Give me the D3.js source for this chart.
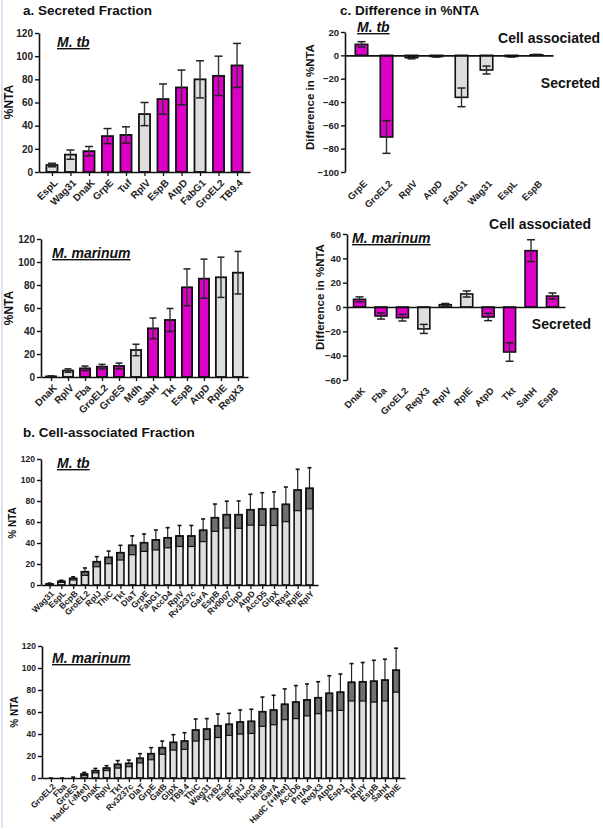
<!DOCTYPE html>
<html><head><meta charset="utf-8">
<script src="https://cdn.jsdelivr.net/npm/d3@7"></script>
<style>html,body{margin:0;padding:0;background:#fff;}</style>
</head><body>
<script>
// ---------- DATA ----------
// a. Secreted fraction, M. tb
const secMtbCats = ["EspL","Wag31","DnaK","GrpE","Tuf","RplV","EspB","AtpD","FabG1","GroEL2","TB9.4"];
const secMtbVals = [6,15,18,31,32,50,63,73,80,83,92];
const secMtbErr  = [1.5,4,4,6.5,7,10,13,15,16,17,19];
const secMtbCol  = ["g","g","m","m","m","g","m","m","g","m","m"];
// a. Secreted fraction, M. marinum
const secMmCats = ["DnaK","RplV","Fba","GroEL2","GroES","Mdh","SahH","Tkt","EspB","AtpD","RplE","RegX3"];
const secMmVals = [0.5,5.6,7.5,9,9.6,23.5,42.3,49.6,78,85.5,86.7,90.7];
const secMmErr  = [0.5,1.5,2,2,2.5,5,9,10,16,17,17.5,18.5];
const secMmCol  = ["m","g","m","m","m","g","m","m","m","m","g","g"];
// c. Difference in %NTA, M. tb
const diffMtbCats = ["GrpE","GroEL2","RplV","AtpD","FabG1","Wag31","EspL","EspB"];
const diffMtbVals = [9.4,-70,-2,-1,-36,-12.6,-1,0.5];
const diffMtbErr  = [2.3,14,1,0.5,8,3.4,0.5,0.3];
const diffMtbCol  = ["m","m","g","g","g","g","g","g"];
// c. Difference in %NTA, M. marinum
const diffMmCats = ["DnaK","Fba","GroEL2","RegX3","RplV","RplE","AtpD","Tkt","SahH","EspB"];
const diffMmVals = [6.3,-7.4,-8.8,-18,1.9,10.7,-8.2,-37,46.3,9];
const diffMmErr  = [2,2.5,2.7,3.7,1,2.5,3,7.6,9,2.5];
const diffMmCol  = ["m","m","m","g","g","g","m","m","m","m"];
// b. Cell-associated fraction, M. tb
const cellMtbCats = ["Wag31","EspL","BcpB","GroEL2","RplJ","ThiC","Tkt","DlaT","GrpE","FabG1","AccD4","RplV","Rv3237c","GarA","EspB","Rv0007","ClpD","AtpD","AccD5","GlpX","RpsI","RplE","RplY"];
const cellMtbVals = [1,3.5,6.3,12.7,22.2,26.3,30.8,37.8,40.3,42.9,45,46.7,46.7,52.1,64.1,67,67,71.7,72.4,72.7,76.8,90.5,92.1];
const cellMtbErr  = [0.8,1,1.5,3.5,4.8,6,7,9,8.3,9.5,9.6,10,10,10.8,13,12.8,13,14.7,15.5,16,16.5,19.7,19.6];
// b. Cell-associated fraction, M. marinum
const cellMmCats = ["GroEL2","Fba","GroES","HadC (-iMet)","DnaK","RplV","Tkt","Rv3237c","DlaT","GrpE","GatB","GlpX","TB9.4","ThiC","Wag31","TrxB2","EspF","RplJ","NuoG","HisB","GarA","HadC (+iMet)","AccD6","PntAa","RegX3","AtpD","EspJ","Tuf","RplY","EspB","SahH","RplE"];
const cellMmVals = [0,0,0.2,3.6,6.7,9,12.4,13.3,17.9,22.1,27.6,32.4,33.6,43.6,44.5,47.5,48.8,50.9,51.5,60.3,61.8,67,69,71,73,77,78,87,87.5,88,89,98];
const cellMmErr  = [0,0,0.6,1.5,2,2.2,3.4,3,4.2,5.5,6,7,7.6,10,9.5,10.7,10,11,11,13.3,13.4,14,15,14.5,14.5,16,16.5,17,17.5,19,19,20];
// tick values
const ticks0to120 = [0,20,40,60,80,100,120];
const ticksDiffMtb = [-100,-80,-60,-40,-20,0,20];
const ticksDiffMm = [-60,-40,-20,0,20,40,60];

// ---------- DRAWING ----------
const FONT = "'Liberation Sans', Arial, Helvetica, sans-serif";
const MAG = "#dc00c8", GRY = "#dedede", DARK = "#707070";
const svg = d3.select("body").append("svg").attr("width",603).attr("height",831)
  .style("display","block").style("font-family",FONT);
svg.append("rect").attr("width",603).attr("height",831).attr("fill","#fff");
svg.append("line").attr("x1",2).attr("x2",2).attr("y1",0).attr("y2",828)
  .attr("stroke","#d6daf0").attr("stroke-width",1.5);

function txt(x,y,s,o={}){
  const t = svg.append("text").attr("x",x).attr("y",y).text(s)
    .attr("font-family",FONT).attr("font-weight","bold")
    .attr("font-size",o.size||14).attr("fill",o.fill||"#111")
    .attr("text-anchor",o.anchor||"start");
  if(o.italic) t.attr("font-style","italic");
  if(o.underline) t.attr("text-decoration","underline");
  if(o.rotate) t.attr("transform",`rotate(${o.rotate},${x},${y})`);
  return t;
}

function drawPanel(p){
  const g = svg.append("g");
  const x = d3.scalePoint().domain(p.cats).range(p.xr).padding(p.pad);
  const y = d3.scaleLinear().domain(p.yd).range(p.yr);
  const bw = x.step()*p.bwf;
  const cw = p.capw;
  const y0 = y(0);
  // bars
  p.cats.forEach((c,i)=>{
    const v = p.vals[i], e = p.errs[i], cx = x(c);
    const top = Math.min(y(v),y0), h = Math.abs(y(v)-y0);
    if(p.style === "b"){
      g.append("line").attr("x1",cx).attr("x2",cx).attr("y1",y(v)).attr("y2",y(v+e))
        .attr("stroke","#222").attr("stroke-width",1.2);
      g.append("line").attr("x1",cx-cw/2).attr("x2",cx+cw/2).attr("y1",y(v+e)).attr("y2",y(v+e))
        .attr("stroke","#111").attr("stroke-width",1.6);
      if(h>0.3){
        g.append("rect").attr("x",cx-bw/2).attr("y",top).attr("width",bw).attr("height",h)
          .attr("fill",GRY).attr("stroke","none");
        const lo = Math.max(v-e,0);
        g.append("rect").attr("x",cx-bw/2).attr("y",y(v)).attr("width",bw).attr("height",y(lo)-y(v))
          .attr("fill",DARK).attr("stroke","#111").attr("stroke-width",1.2);
        g.append("rect").attr("x",cx-bw/2).attr("y",top).attr("width",bw).attr("height",h)
          .attr("fill","none").attr("stroke","#111").attr("stroke-width",1.6);
      }
    } else {
      g.append("rect").attr("x",cx-bw/2).attr("y",top).attr("width",bw).attr("height",h)
        .attr("fill",p.cols[i]==="m"?MAG:GRY).attr("stroke","#111").attr("stroke-width",p.sw);
      g.append("line").attr("x1",cx).attr("x2",cx).attr("y1",y(v-e)).attr("y2",y(v+e))
        .attr("stroke","#333").attr("stroke-width",1.4);
      [v-e,v+e].forEach(q=>{
        g.append("line").attr("x1",cx-cw/2).attr("x2",cx+cw/2).attr("y1",y(q)).attr("y2",y(q))
          .attr("stroke","#222").attr("stroke-width",1.5);
      });
    }
  });
  // y axis
  const yg = g.append("g").attr("transform",`translate(${p.xr[0]},0)`)
    .call(d3.axisLeft(y).tickValues(p.ticks).tickSize(4).tickSizeOuter(0).tickPadding(2));
  yg.select(".domain").attr("stroke","#111").attr("stroke-width",1.6);
  yg.selectAll(".tick line").attr("stroke","#111").attr("stroke-width",1.4);
  yg.selectAll(".tick text").attr("font-size",p.tf).attr("font-weight","bold")
    .attr("font-family",FONT).attr("fill","#222");
  // x axis at zero
  const xg = g.append("g").attr("transform",`translate(0,${y0})`)
    .call(d3.axisBottom(x).tickSize(p.xt).tickSizeOuter(0).tickFormat(""));
  xg.select(".domain").attr("stroke","#111").attr("stroke-width",1.6);
  xg.selectAll(".tick line").attr("stroke","#111").attr("stroke-width",1.3);
  // category labels
  g.selectAll("text.cat").data(p.cats).join("text").attr("class","cat")
    .attr("transform",d=>`translate(${x(d)+p.ldx},${p.ly}) rotate(-45)`)
    .attr("text-anchor","end").attr("dy","0.35em")
    .attr("font-size",p.cf).attr("font-weight","bold").attr("font-family",FONT).attr("fill","#222")
    .text(d=>d);
}

// titles
txt(23,15,"a. Secreted Fraction",{size:13.5});
txt(340,15,"c. Difference in %NTA",{size:13.5});
txt(23,437,"b. Cell-associated Fraction",{size:13.5});

// a top
drawPanel({cats:secMtbCats,vals:secMtbVals,errs:secMtbErr,cols:secMtbCol,xr:[39,250],pad:0.7,bwf:0.6,
  yd:[0,120],yr:[172,33],ticks:ticks0to120,style:"a",sw:1.8,capw:8,tf:10,cf:10,xt:4,ly:181,ldx:4});
txt(57,47,"M. tb",{italic:true,underline:true});
txt(13,102,"%NTA",{size:12,anchor:"middle",rotate:-90});

// a bottom
drawPanel({cats:secMmCats,vals:secMmVals,errs:secMmErr,cols:secMmCol,xr:[41,248],pad:0.59,bwf:0.6,
  yd:[0,120],yr:[377,239],ticks:ticks0to120,style:"a",sw:1.8,capw:7,tf:10,cf:10,xt:4,ly:386,ldx:4});
txt(52,258,"M. marinum",{italic:true,underline:true});
txt(13,308,"%NTA",{size:12,anchor:"middle",rotate:-90});

// c top
drawPanel({cats:diffMtbCats,vals:diffMtbVals,errs:diffMtbErr,cols:diffMtbCol,xr:[345,553],pad:0.66,bwf:0.5,
  yd:[-100,20],yr:[172,32],ticks:ticksDiffMtb,style:"c",sw:1.6,capw:8,tf:9.5,cf:9.5,xt:0,ly:182,ldx:4});
txt(357,32,"M. tb",{italic:true,underline:true});
txt(314,97,"Difference in %NTA",{size:11.5,anchor:"middle",rotate:-90});
txt(600,43,"Cell associated",{anchor:"end"});
txt(600,88,"Secreted",{anchor:"end"});

// c bottom
drawPanel({cats:diffMmCats,vals:diffMmVals,errs:diffMmErr,cols:diffMmCol,xr:[347,565],pad:0.585,bwf:0.56,
  yd:[-60,60],yr:[380,234],ticks:ticksDiffMm,style:"c",sw:1.6,capw:8,tf:9.5,cf:9.5,xt:0,ly:389,ldx:4});
txt(352,243,"M. marinum",{italic:true,underline:true});
txt(324,297,"Difference in %NTA",{size:11.5,anchor:"middle",rotate:-90});
txt(591,229,"Cell associated",{anchor:"end"});
txt(591,329,"Secreted",{anchor:"end"});

// b top
drawPanel({cats:cellMtbCats,vals:cellMtbVals,errs:cellMtbErr,cols:null,xr:[41,318],pad:0.72,bwf:0.6,
  yd:[0,120],yr:[585,459],ticks:ticks0to120,style:"b",capw:4,tf:8.5,cf:8.5,xt:4,ly:592,ldx:3});
txt(57,468,"M. tb",{italic:true,underline:true});
txt(16,523,"% NTA",{size:10,anchor:"middle",rotate:-90});

// b bottom
drawPanel({cats:cellMmCats,vals:cellMmVals,errs:cellMmErr,cols:null,xr:[42,405],pad:0.8,bwf:0.58,
  yd:[0,120],yr:[778,646],ticks:ticks0to120,style:"b",capw:4,tf:8.5,cf:8.5,xt:4,ly:785,ldx:3});
txt(52,663,"M. marinum",{italic:true,underline:true});
txt(18,712,"% NTA",{size:10,anchor:"middle",rotate:-90});
</script>
</body></html>
